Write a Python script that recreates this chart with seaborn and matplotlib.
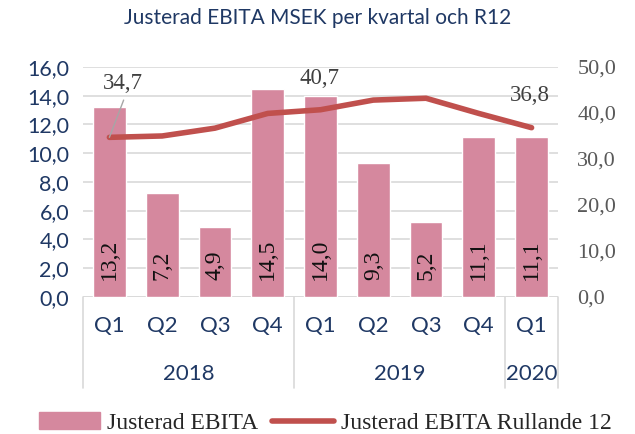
import pandas as pd
import seaborn as sns
import matplotlib.pyplot as plt

quarters = ['Q1', 'Q2', 'Q3', 'Q4', 'Q1', 'Q2', 'Q3', 'Q4', 'Q1']
years = ['2018', '2019', '2020']
year_counts = [4, 4, 1]
ebita = [13.2, 7.2, 4.9, 14.5, 14.0, 9.3, 5.2, 11.1, 11.1]
r12 = [34.7, 35.0, 36.7, 39.9, 40.7, 42.8, 43.2, 39.9, 36.8]
r12_labelled = [0, 4, 8]

df = pd.DataFrame({'pos': range(len(ebita)), 'ebita': ebita, 'r12': r12})

sns.set_style('white')
navy = '#1f3864'
bar_color = '#d5889e'
line_color = '#c0504d'
serif = ['Liberation Serif', 'DejaVu Serif']
sans = ['Lato', 'DejaVu Sans']

fig = plt.figure(figsize=(6.35, 4.34), dpi=100)
ax = fig.add_axes([0.1307, 0.3157, 0.748, 0.530])
ax2 = ax.twinx()

sns.barplot(data=df, x='pos', y='ebita', color=bar_color, saturation=1,
            width=0.62, ax=ax, zorder=2)
sns.lineplot(data=df, x='pos', y='r12', color=line_color, linewidth=4,
             ax=ax2, zorder=3)

ax.set_ylim(0, 16)
ax.set_yticks(range(0, 17, 2))
ax.set_yticklabels([f'{v},0' for v in range(0, 17, 2)], family=sans,
                   fontsize=15.5, color=navy)
ax.yaxis.grid(True, color='#d9d9d9', linewidth=1.2, zorder=0)
ax.set_axisbelow(True)
ax2.set_ylim(0, 50)
ax2.set_yticks(range(0, 51, 10))
ax2.set_yticklabels([f'{v},0' for v in range(0, 51, 10)], family=serif,
                    fontsize=16, color='#595959')
ax.set_xlim(-0.5, len(ebita) - 0.5)
ax.set_xticks(range(len(quarters)))
ax.set_xticklabels(quarters, family=sans, fontsize=16, color=navy)
ax.tick_params(axis='x', length=0, pad=14)
ax.tick_params(axis='y', length=0, pad=10)
ax2.tick_params(axis='y', length=0, pad=14)
ax.set_xlabel('')
ax.set_ylabel('')
ax2.set_xlabel('')
ax2.set_ylabel('')
for a in (ax, ax2):
    for s in a.spines.values():
        s.set_visible(False)
ax.axhline(0, color='#d9d9d9', linewidth=1.2, zorder=1)

# bar value labels
for i, v in enumerate(ebita):
    ax.text(i, 1.2, f'{v:.1f}'.replace('.', ','), rotation=90, ha='center',
            va='bottom', family=serif, fontsize=17, color='#111111', zorder=4)

# line value labels
label_pos = {0: (0.25, 46.5), 4: (-0.02, 47.6), 8: (-0.04, 43.7)}
for i in r12_labelled:
    dx, ly = label_pos[i]
    ax2.text(i + dx, ly, f'{r12[i]:.1f}'.replace('.', ','), ha='center',
             va='center', family=serif, fontsize=16.5, color='#404040', zorder=5)
ax2.plot([0, 0.27], [r12[0], 42.8], color='#a6a6a6', linewidth=1, zorder=4)

# multi-level category axis
trans = ax.get_xaxis_transform()
edges = [-0.5]
for c in year_counts:
    edges.append(edges[-1] + c)
for e in edges:
    ax.plot([e, e], [0, -0.396], transform=trans, color='#d9d9d9',
            linewidth=1.2, clip_on=False)
for k, y in enumerate(years):
    mid = (edges[k] + edges[k + 1]) / 2
    ax.text(mid, -0.335, y, transform=trans, ha='center', va='center',
            family=sans, fontsize=16, color=navy)

fig.text(0.5, 0.958, 'Justerad EBITA MSEK per kvartal och R12', ha='center',
         va='center', family=sans, fontsize=15, color=navy)

handles = [plt.Rectangle((0, 0), 1, 1, color=bar_color),
           plt.Line2D([0], [0], color=line_color, linewidth=4)]
fig.legend(handles, ['Justerad EBITA', 'Justerad EBITA Rullande 12'],
           loc='center', bbox_to_anchor=(0.512, 0.025), ncol=2, frameon=False,
           prop={'family': serif, 'size': 17}, handlelength=2.6,
           columnspacing=0.6, handletextpad=0.3, borderpad=0)

fig.savefig('out.png', dpi=100)
